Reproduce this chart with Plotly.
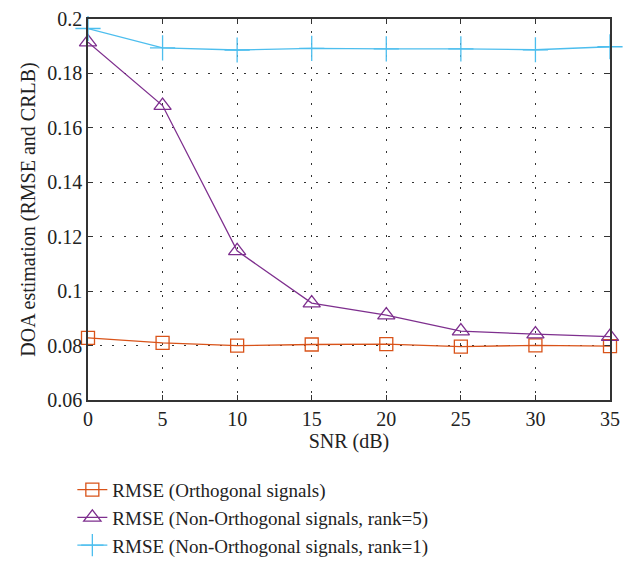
import plotly.graph_objects as go

snr = [0, 5, 10, 15, 20, 25, 30, 35]
rmse_orth = [0.0828, 0.0810, 0.0800, 0.0804, 0.0805, 0.0796, 0.0801, 0.0798]
rmse_rank5 = [0.1915, 0.1682, 0.1148, 0.0956, 0.0912, 0.0853, 0.0842, 0.0833]
rmse_rank1 = [0.1965, 0.1894, 0.1886, 0.1892, 0.1890, 0.1890, 0.1887, 0.1898]

names = ["RMSE (Orthogonal signals)",
         "RMSE (Non-Orthogonal signals, rank=5)",
         "RMSE (Non-Orthogonal signals, rank=1)"]

FONT = "Liberation Serif"
fig = go.Figure()
fig.add_trace(go.Scatter(x=snr, y=rmse_orth, mode="lines+markers", name=names[0],
                         cliponaxis=False,
                         line=dict(color="#D95319", width=1.3),
                         marker=dict(symbol="square-open", size=13, color="#D95319",
                                     line=dict(width=1.3, color="#D95319"))))
fig.add_trace(go.Scatter(x=snr, y=rmse_rank5, mode="lines+markers", name=names[1],
                         cliponaxis=False,
                         line=dict(color="#7E2F8E", width=1.3),
                         marker=dict(symbol="triangle-up-open", size=15, color="#7E2F8E",
                                     line=dict(width=1.3, color="#7E2F8E"))))
fig.add_trace(go.Scatter(x=snr, y=rmse_rank1, mode="lines+markers", name=names[2],
                         cliponaxis=False,
                         line=dict(color="#4DBEEE", width=1.3),
                         marker=dict(symbol="cross-thin-open", size=18, color="#4DBEEE",
                                     line=dict(width=1.3, color="#4DBEEE"))))

axis_common = dict(showline=True, linecolor="#333333", linewidth=1.5, mirror="ticks",
                   ticks="inside", ticklen=5, tickcolor="#333333",
                   showgrid=True, gridcolor="#333333", gridwidth=1, griddash="2px,10px",
                   zeroline=False, tickfont=dict(family=FONT, size=20, color="#222222"),
                   title_font=dict(family=FONT, size=20, color="#222222"),
                   automargin=False)

fig.update_xaxes(range=[0, 35], tickvals=[0, 5, 10, 15, 20, 25, 30, 35],
                 title_text="SNR (dB)", title_standoff=2, **axis_common)
fig.update_yaxes(range=[0.06, 0.2], tickvals=[0.06, 0.08, 0.1, 0.12, 0.14, 0.16, 0.18, 0.2],
                 ticktext=["0.06", "0.08", "0.1", "0.12", "0.14", "0.16", "0.18", "0.2"],
                 title_text="DOA estimation (RMSE and CRLB)", title_standoff=6, **axis_common)

fig.update_layout(width=639, height=561,
                  margin=dict(l=88, r=29, t=19, b=161, autoexpand=False),
                  paper_bgcolor="white", plot_bgcolor="white",
                  font=dict(family=FONT, size=20, color="#222222"),
                  legend=dict(x=-0.03, y=-0.186, xanchor="left", yanchor="top",
                              bgcolor="rgba(0,0,0,0)", tracegroupgap=0,
                              itemwidth=30, font=dict(family=FONT, size=19)),
                  showlegend=True)

fig.write_html("out.html")
